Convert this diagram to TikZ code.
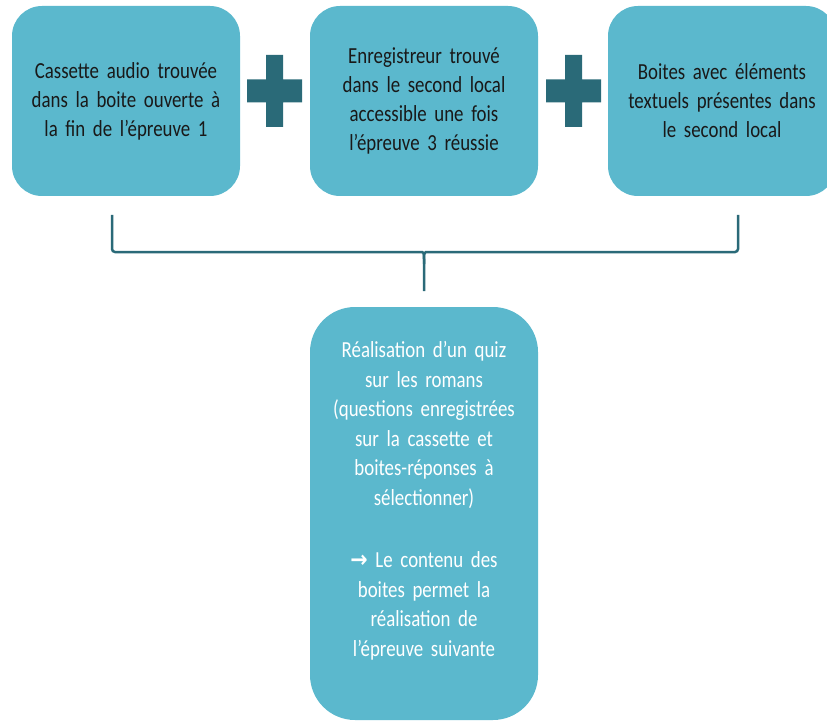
\documentclass[tikz,border=0pt]{standalone}
\usepackage{fontspec}
\setmainfont{Carlito}[FakeStretch=0.82, WordSpace=0.6]
\newfontfamily\arrowfont{DejaVu Sans}[FakeStretch=0.9]
\usepackage{xcolor}
\definecolor{BoxTeal}{RGB}{91,184,205}
\definecolor{DarkTeal}{RGB}{42,106,120}
\definecolor{TextGrey}{RGB}{25,25,25}
\usepackage{tikz}
\usetikzlibrary{positioning}

\begin{document}
\begin{tikzpicture}[
		x=1pt, y=-1pt,
		% cadres du haut
		stepBox/.style={
			rectangle,
			rounded corners=30pt,
			minimum width=228pt,
			minimum height=190pt,
			text width=215pt,
			align=center,
			font=\fontsize{23}{29}\selectfont,
			text=TextGrey,
			fill=BoxTeal,
			inner sep=0pt
		},
		% grand cadre du quiz
		quizBox/.style={
			rectangle,
			rounded corners=45pt,
			minimum width=228pt,
			minimum height=413pt,
			text width=215pt,
			align=center,
			font=\fontsize{23}{29.5}\selectfont,
			text=white,
			fill=BoxTeal,
			inner sep=0pt
		},
		% accolade
		braceLine/.style={
			draw=DarkTeal,
			line width=2.5pt,
			rounded corners=3pt
		}
		]
		
		\useasboundingbox (0,0) rectangle (827,722);
		
		% premier cadre : cassette
		\node[stepBox] (cassette) at (126,101) {
			Cassette audio trouvée\\dans la boite ouverte à\\la fin de l’épreuve 1
		};
		
		% deuxième cadre : enregistreur
		\node[stepBox] (recorder) at (424,101) {
			Enregistreur trouvé\\dans le second local\\accessible une fois\\l’épreuve 3 réussie
		};
		
		% troisième cadre : boites
		\node[stepBox] (boxes) at (722,101) {
			Boites avec éléments\\textuels présentes dans\\le second local
		};
		
		% signes plus
		\coordinate (plusA) at (274.5,91);
		\coordinate (plusB) at (573.5,91);
		\foreach \p in {plusA, plusB}
			\fill[DarkTeal, shift={(\p)}] (-27.5,-11.5) rectangle (27.5,11.5) (-8.5,-36) rectangle (8.5,36);
		
		% accolade
		\coordinate (braceL) at (112,215);
		\coordinate (braceR) at (738,215);
		\coordinate (braceTip) at (424,291);
		\draw[braceLine] (braceL) -- (112,252) -- (417,252) .. controls (424,252) .. (424,264) -- (braceTip);
		\draw[braceLine] (braceR) -- (738,252) -- (431,252) .. controls (424,252) .. (424,264);
		
		% cadre du quiz
		\node[quizBox] (quiz) at (424,513.5) {
			Réalisation d’un quiz\\sur les romans\\(questions enregistrées\\sur la cassette et\\boites-réponses à\\sélectionner)\\[33pt]{\arrowfont\bfseries →} Le contenu des\\boites permet la\\réalisation de\\l’épreuve suivante\par\vspace{26pt}
		};
		
	\end{tikzpicture}
\end{document}
